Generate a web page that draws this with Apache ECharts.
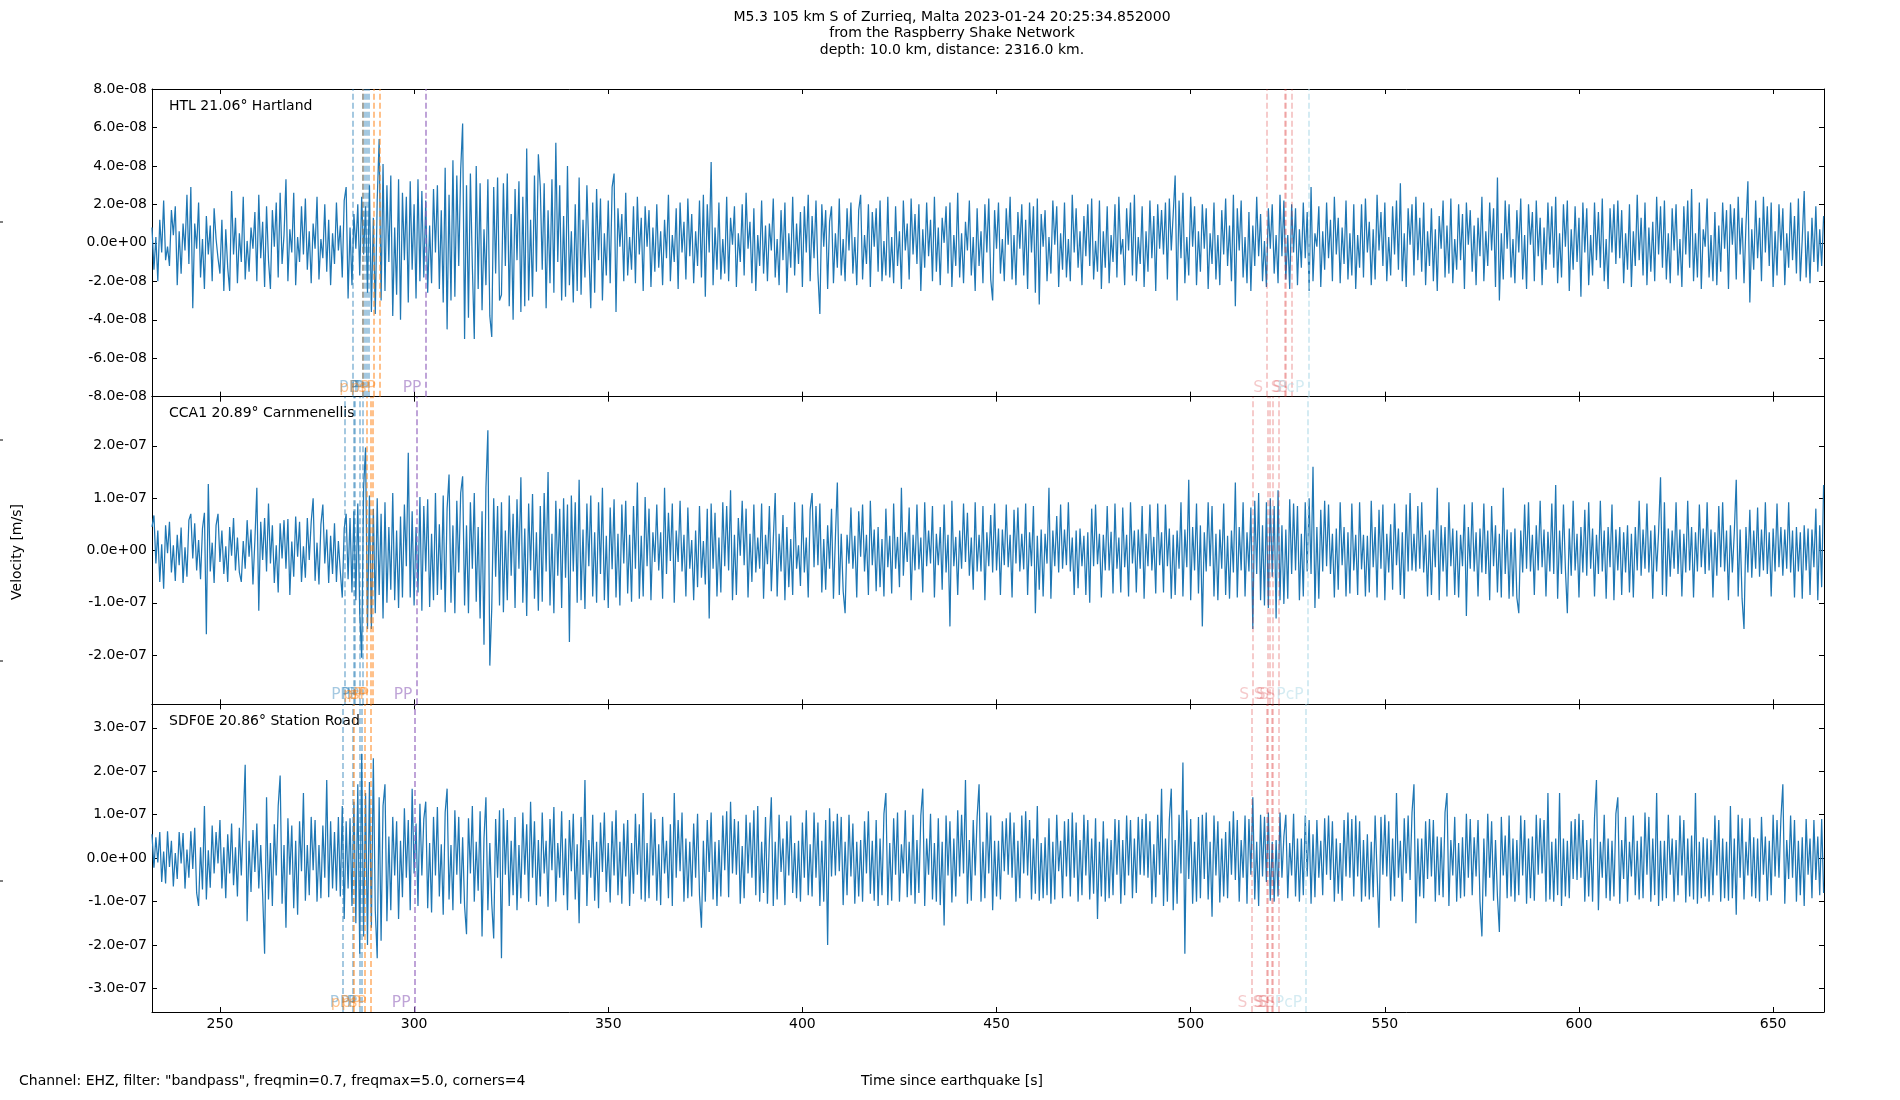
<!DOCTYPE html>
<html><head><meta charset="utf-8">
<script src="https://cdn.jsdelivr.net/npm/echarts@6/dist/echarts.min.js"></script>
<style>html,body{margin:0;padding:0;background:#fff}#c{width:1900px;height:1100px}</style>
</head><body><div id="c"></div>
<script>
// ---- data (velocity in units of 1e-9 m/s, sampled every DT seconds from T0) ----
const T0 = 232.5, DT = 0.5;
const xMin = 232.5, xMax = 663.1;
const xTicks = [250,300,350,400,450,500,550,600,650];
const stationLabels = ['HTL 21.06° Hartland','CCA1 20.89° Carnmenellis','SDF0E 20.86° Station Road'];

const htlNm = [
8,-14,3,-20,12,-5,22,-9,-2,-12,17,4,19,-22,6,-16,10,-4,25,-11,
29,-34,10,-3,21,-18,2,-24,14,-6,9,-20,18,2,-8,-16,12,-25,7,-13,
-25,27,-6,13,-21,5,-10,24,-19,1,-15,8,-3,16,-20,25,-8,11,-23,19,
-9,-24,17,-2,21,-18,26,-11,4,33,-20,7,-5,26,-22,3,-10,19,-6,23,
-14,6,-21,10,-3,24,-19,2,-8,20,-15,12,-22,5,-11,21,-4,9,-18,22,
29,-29,8,-22,15,-3,20,-17,24,-6,19,-26,30,-36,13,-37,22,54,-30,41,
-25,30,-10,35,-38,8,-27,33,-40,26,-9,24,-31,32,-14,20,-29,33,-20,27,
-18,22,-26,9,-21,28,-5,30,-24,17,-31,39,-45,25,-30,43,-28,35,-12,38,
62,-50,30,-39,36,-12,-50,40,-24,31,-35,7,-22,33,-38,-49,29,-16,34,-30,
-27,31,-12,36,-33,15,-40,28,-9,32,-36,24,-33,49,-30,12,-28,35,-15,46,
29,-14,31,-34,17,-21,33,-26,52,-10,30,-30,14,-28,40,-22,6,-31,20,-25,
34,-27,12,-18,30,-4,-34,21,-26,28,-9,23,-30,5,-17,22,-21,29,36,-36,
18,-2,15,-20,26,-17,3,-14,19,-21,24,-6,13,-25,19,-2,17,-23,8,-15,
20,-13,6,-22,12,-8,25,-20,4,-10,18,-24,21,-5,11,-19,23,-7,15,-21,
6,-12,22,-18,25,-28,20,-5,42,-22,8,-14,21,-19,2,-16,24,-20,13,-1,
19,-23,5,-10,20,-17,26,-3,11,-21,18,-25,4,-12,22,-16,9,-20,10,-4,
23,-18,2,-22,17,-9,21,-26,5,-13,24,-17,10,-11,16,-23,19,-5,25,-20,
14,-8,22,-16,-37,20,-2,17,-24,11,19,-21,5,-13,23,-17,2,-20,18,-4,
21,-16,3,-22,17,25,-19,4,-11,20,-23,16,-2,18,-15,22,-20,1,-17,24,
-18,3,-21,19,-12,6,-24,22,-4,10,-19,23,-6,15,-11,20,-25,7,-13,21,
-7,12,-20,24,-15,8,-22,13,0,19,-16,21,-23,4,-12,26,-18,5,-21,11,
-4,22,-17,3,-25,18,-12,6,-21,20,-5,23,-19,-30,17,-3,21,-16,2,-20,
18,-1,24,-19,4,-22,16,-3,20,-17,12,-24,21,-5,19,-26,23,-32,15,-2,
17,-20,3,-16,22,-1,19,-23,5,-14,21,-18,2,-20,25,-5,18,-13,6,-22,
14,-7,20,-12,23,-19,1,-15,22,-24,6,-13,19,-21,4,-10,20,-18,24,-6,
2,-22,18,-4,21,-17,25,-20,3,-11,19,-23,6,-15,22,-8,14,-25,20,-3,
17,-6,21,-19,23,-4,15,35,-30,22,-8,26,-21,3,-17,24,-2,19,-22,6,
-15,20,-3,18,-24,5,-11,21,-19,4,-22,17,-6,23,-12,9,-20,25,-33,18,
-4,22,-18,3,-21,16,-25,9,-12,24,-7,15,-20,1,-23,18,-3,20,-16,4,
-21,25,-7,22,-19,4,-24,20,-5,18,-22,7,-13,21,-8,16,-25,29,-20,5,
-2,19,-23,6,-14,21,-8,12,-20,24,-6,13,-21,8,-11,22,-19,5,-17,20,
-24,4,-13,20,-18,23,-5,11,-22,7,-19,25,-4,16,-12,21,-20,3,-17,19,
-6,22,-14,31,-20,5,-23,18,-1,20,-17,24,-9,13,-15,21,-22,6,-12,18,
-20,7,-25,14,-3,22,-18,9,-16,23,-21,2,-14,20,-9,15,-24,21,-1,17,
-15,9,-22,13,-7,24,-20,6,-12,21,-4,18,-23,34,-30,5,-19,22,-3,20,
-18,2,-21,17,-5,23,-19,4,-24,20,-1,16,-20,22,-7,13,-22,8,-14,21,
-6,19,-13,24,-21,5,-18,20,-2,22,-25,7,-14,19,-10,13,-28,21,-5,18,
-22,4,-17,21,-9,16,-13,23,-20,2,-24,18,-5,20,-11,22,-8,17,-21,5,
-14,20,-23,6,-12,25,-9,13,-17,21,-22,8,-15,11,-20,24,-6,19,-13,22,
-19,5,-21,18,-4,20,-17,2,-23,19,-6,22,-13,28,-20,5,-18,21,-24,7,
-2,23,-18,4,-20,16,-22,9,-15,21,-3,17,-24,20,-1,18,-19,24,-6,13,
-21,9,32,-31,7,-14,22,-8,13,-20,24,-5,19,-12,21,-23,6,-17,20,-4,
18,-22,5,-13,21,-9,14,-16,23,-20,2,27,-18,6,-21,13,-10,19,-15,7,
-12,14
];

const cca1Nm = [
45,67,-25,38,-60,12,-73,48,-5,55,-42,10,-58,30,-28,44,-62,6,-50,58,
70,-15,52,-38,20,-55,42,72,-160,127,-40,15,-62,48,70,-22,38,-45,8,-60,
45,-10,62,-38,25,-42,-60,18,-35,58,-12,40,-65,20,120,-115,55,-18,62,-40,
90,-25,48,-62,10,-80,52,-15,58,-35,60,-85,17,-50,65,-12,55,-60,8,-52,
62,-18,55,100,-58,15,-65,50,88,-25,40,-62,28,-45,52,-60,18,-40,-90,42,
70,-55,62,-80,75,-95,90,-120,-205,120,197,-150,105,-150,80,-120,100,-85,70,-130,
92,-100,45,-75,110,-95,38,-110,65,-90,88,-30,187,-90,75,-105,45,-80,102,-115,
85,-40,98,-108,32,-95,110,-85,50,-75,105,-118,80,145,-100,48,-120,95,-42,110,
142,-105,48,-120,92,-35,110,-98,45,-130,75,-180,120,230,-220,-110,100,-50,85,-105,
92,-118,38,-95,105,-48,70,-110,98,-35,140,-100,42,-125,90,-38,108,-92,35,-115,
85,-98,110,-40,150,-105,32,-120,95,-48,80,-110,100,-52,88,-175,105,-40,92,-100,
135,-95,40,-112,90,-30,105,-88,35,-100,92,-45,120,-95,28,-110,82,-36,98,-90,
32,-105,88,-25,95,-82,30,-98,85,-35,130,-92,28,-88,102,-30,80,-95,35,-22,
88,-38,35,-92,120,-45,72,-20,90,-100,38,-22,95,-40,30,-88,82,-35,20,-95,
38,-70,85,-52,18,-65,80,-130,90,-35,72,-88,25,-80,92,-30,85,-38,115,-95,
30,-85,62,-10,95,-28,80,-90,32,-60,88,-42,25,-35,90,-92,30,-26,85,-78,
20,110,-88,32,-40,68,-95,45,-70,22,-85,92,-35,10,-68,88,-42,25,-90,78,
110,-32,85,-28,90,-80,22,-75,48,-35,80,-92,25,130,-85,32,-78,-120,30,-25,
82,-35,28,-90,75,-12,88,-40,30,-85,95,-28,40,-78,45,-70,22,-88,80,-32,
28,-82,90,-35,26,-70,120,-48,35,-22,82,-95,30,-38,88,-36,25,-80,92,-30,
38,-25,85,-90,32,-28,45,-75,88,-42,30,-145,95,-30,26,-85,38,-35,90,-22,
72,-48,25,-75,92,-40,30,-40,85,-95,35,-30,68,-42,90,-38,42,-85,40,-28,
88,-32,30,-90,78,-25,82,-40,32,-36,90,-85,35,-30,85,-120,28,-75,40,-88,
32,-25,120,-92,38,-30,66,-42,88,-35,40,-28,92,-40,25,-85,38,-72,42,-30,
28,-85,35,-100,80,-30,88,-26,32,-90,30,-38,85,-38,36,-82,90,-35,25,-80,
82,-32,30,-88,92,-25,38,-80,40,-35,85,-92,32,-30,88,-38,26,-82,90,-28,
35,-80,88,-30,42,-92,30,-85,38,-35,92,-88,40,-32,135,-95,45,-38,90,-82,
48,-145,35,-40,92,-30,85,-88,32,-95,40,-35,90,-85,28,-92,38,-42,130,-90,
45,-38,92,-88,35,-40,82,-150,95,-45,110,-95,48,-105,92,-110,100,-50,85,-130,
115,-95,48,-102,40,-92,98,-45,90,-38,85,-95,32,-88,92,-40,100,-45,160,-110,
45,-92,78,-40,95,-30,88,-45,32,-90,42,-75,92,-28,45,-88,35,-82,90,-38,
30,-85,92,-36,30,-88,28,-80,95,-32,45,-90,78,-35,88,-95,32,-42,50,-75,
90,-28,42,-85,35,-92,88,-40,110,-38,32,-40,85,-35,92,-42,30,-88,38,-85,
40,-32,120,-95,48,-40,45,-88,92,-30,42,-85,38,-90,30,-30,88,-125,45,-35,
92,-40,35,-88,42,-42,90,-45,38,-95,85,-30,48,-80,32,-90,120,-45,40,-92,
35,-88,42,-90,-120,38,-42,88,-35,92,-40,30,-85,48,-38,95,-32,40,-88,36,
-40,90,-45,125,-92,38,-45,88,-35,-120,42,-48,95,-38,32,-90,45,-42,78,-48,
92,-35,42,-88,30,-45,95,-40,38,-92,45,-32,88,-95,40,-38,45,-85,35,-42,
48,-80,32,-90,45,-38,95,-48,40,-35,90,-42,38,-92,48,-40,35,140,-85,92,
-88,42,-50,38,-35,92,-45,40,-88,32,-42,95,-38,45,-90,35,-40,88,-32,42,
-45,92,-38,40,-90,35,-48,85,-32,92,-40,38,-95,48,-42,35,135,-88,40,-92,
-150,45,-42,78,-52,38,-35,82,-50,40,-38,92,-45,35,-88,42,-40,90,-32,45,
-48,40,-35,92,-42,38,-90,45,-40,35,-92,48,-38,42,-85,40,-32,80,-95,48,
-70,125
];

const sdf0eNm = [
55,-22,48,-10,60,-55,15,-58,62,-20,40,-65,12,-48,60,-12,58,-70,20,-45,
62,-25,70,-80,-110,25,-72,120,-95,18,-68,75,-35,60,-12,88,-70,25,-92,55,
-35,80,-62,25,-88,70,-40,85,215,-145,40,-78,65,-32,80,-70,30,-85,-220,140,
-95,35,-110,78,-40,120,190,-105,30,-160,92,-38,75,-115,40,-130,85,-30,150,-98,
30,-85,95,-28,88,-100,30,-92,75,-45,180,-90,85,-70,60,-75,95,-88,120,-140,
85,-70,92,-110,130,-150,170,-220,240,-180,150,-200,175,-160,230,-120,-230,140,-190,120,
170,-145,50,-120,95,-40,85,-140,40,-90,115,-45,88,-120,160,-35,80,-110,125,-40,
90,130,-115,35,-125,95,-40,118,-88,32,-130,105,160,-95,30,-120,110,-38,95,-105,
48,-110,-175,92,-35,120,-100,38,-75,108,-180,45,140,-120,35,-105,-185,90,-45,110,
-230,115,-38,88,-110,40,-85,95,-120,30,-92,105,-38,78,-100,130,-45,85,-108,42,
-88,105,-35,40,-112,90,-28,118,-100,35,-45,108,-85,45,-120,88,-30,102,-95,32,
-150,95,-38,180,-110,42,-45,100,-98,38,-115,82,-32,105,-78,35,-102,85,-40,110,
-85,38,-105,80,-42,88,-110,35,-82,102,-38,78,-95,150,-100,35,-92,105,-40,90,
-98,32,-108,95,-35,40,-92,78,-110,150,-45,88,-30,105,-100,45,-92,38,-88,80,
-45,102,-85,-160,40,-100,88,-32,105,-95,38,-110,42,-88,98,-28,108,-90,130,-35,
90,-38,85,-105,28,-92,100,-35,82,-45,110,-85,120,-100,38,-80,95,-105,42,140,
-110,38,-95,100,-32,45,-108,85,-40,98,-80,35,-92,40,-100,82,-45,110,-85,32,
-88,105,-45,82,-110,40,-100,88,-200,115,-42,85,-40,102,-30,95,-108,38,-85,100,
-42,80,-105,38,-88,42,-100,85,-35,108,-82,40,-98,88,-110,45,-85,102,150,-108,
35,-98,92,-38,105,-100,32,-35,110,-90,38,-85,100,-105,42,-80,98,160,-110,45,
-38,102,-95,35,-100,92,-108,38,-155,98,-40,85,-102,45,-88,110,-42,100,-35,180,
-105,42,-98,88,-40,95,170,-100,38,-92,105,-35,98,-120,40,-88,40,-95,85,-30,
92,-38,105,-45,82,-100,40,-92,98,-35,108,-40,88,-95,45,-82,120,-98,35,-92,
48,-85,92,-105,38,-95,100,-30,40,-92,85,-42,90,-88,105,-45,82,-100,42,-85,
100,-40,88,-95,45,-82,92,-140,38,-88,85,-100,45,-92,42,-85,90,-38,88,-105,
42,-85,98,-40,88,-92,45,-80,95,-38,90,-40,102,-45,85,-105,32,-90,100,-38,
160,-110,45,-100,88,160,-120,42,-105,100,-35,220,-220,110,-48,90,-105,38,-100,95,
-92,100,-48,105,-95,38,-135,98,-40,85,-102,45,-88,60,-92,85,-38,108,-50,88,
-100,42,-45,98,-105,90,-38,140,-95,38,-110,100,-42,95,-55,105,-98,38,-100,42,
-88,105,-45,50,100,-92,35,-40,102,-88,45,-100,45,-85,98,-42,88,-105,55,-90,
88,-45,40,-85,92,-38,98,-50,85,-100,45,-82,35,-98,88,-42,105,-45,90,-88,
98,-42,85,-100,42,-88,55,-95,38,-90,98,-35,-160,95,-38,100,-42,85,-98,45,
-88,150,-45,40,-100,92,-35,98,-50,105,170,-150,45,-88,45,-92,85,-48,90,-42,
88,-100,50,-85,48,-90,105,150,-110,42,-40,95,-100,35,-92,48,-88,102,-45,90,
-85,48,-42,88,-100,-180,45,-88,102,-45,85,-98,42,-88,-170,95,-40,52,-92,98,
-88,45,-100,42,-85,98,-40,88,-105,45,-92,50,-98,100,-38,92,-35,88,-100,150,
-95,38,-100,45,-85,150,-110,45,-88,40,-92,85,-48,90,-50,102,-45,88,-100,42,
-88,45,-100,92,180,-120,38,-45,100,-92,45,-98,40,-88,102,140,-105,42,-48,95,
-100,38,-42,98,-85,40,-95,50,-92,105,-38,95,-100,45,-85,150,-110,40,-98,40,
-92,100,-38,45,-100,42,-85,98,-40,88,-102,45,-88,52,-95,150,-105,38,-92,48,
-88,45,-100,42,-85,98,-40,88,-100,45,-92,38,-98,120,-92,45,-130,100,-45,92,
-95,38,-40,92,-88,48,-92,45,-100,95,-38,50,-98,40,-85,100,-42,88,-45,90,
170,-105,42,-48,98,-45,88,-100,40,-85,48,-110,90,-38,45,-92,88,-50,50,-85,
90,-80
];

const yLimits = [80, 294, 354];
const htlTicks = [-80,-60,-40,-20,0,20,40,60,80];
const cca1Ticks = [-200,-100,0,100,200];
const sdf0eTicks = [-300,-200,-100,0,100,200,300];

const htlPhaseNames  = ['P','pP','P','P','P','P','pP','sP','PP','S','S','S','S','PcP'];
const htlPhaseTimes  = [284.1,286.7,286.7,287.2,287.8,288.2,289.6,291.2,302.9,519.7,524.2,524.6,526.1,530.3];
const cca1PhaseNames = ['P','P','P','P','P','pP','pP','sP','PP','S','S','S','S','S','PcP'];
const cca1PhaseTimes = [282.1,284.4,284.7,286.0,286.8,287.7,288.8,289.4,300.6,516.1,519.8,520.3,521.2,522.8,530.1];
const sdf0ePhaseNames = ['P','P','pP','P','P','pP','sP','PP','S','S','S','S','S','S','PcP'];
const sdf0ePhaseTimes = [281.7,284.3,284.5,286.0,286.4,287.3,288.8,300.1,515.6,519.5,519.9,520.8,521.2,522.8,529.7];

// ---- styling ----
const FONT = 'DejaVu Sans';
const phaseColor = {
  'P':'rgba(31,119,180,0.5)', 'pP':'rgba(255,127,14,0.6)', 'sP':'rgba(255,127,14,0.6)',
  'PP':'rgba(148,103,189,0.75)', 'S':'rgba(214,39,40,0.3)', 'PcP':'rgba(173,216,230,0.65)'
};
const L = 152, R = 76, TOP = 89, PH = 307.67;

function fmt(v) {
  const x = v * 1e-9;
  if (Math.abs(x) < 1e-15) return '0.0e+00';
  const s = x.toExponential(1);
  const m = s.match(/^(-?\d\.\d)e([+-])(\d+)$/);
  return m ? m[1] + 'e' + m[2] + m[3].padStart(2, '0') : s;
}

const traces = [htlNm, cca1Nm, sdf0eNm];
const tickSets = [htlTicks, cca1Ticks, sdf0eTicks];
const phaseNames = [htlPhaseNames, cca1PhaseNames, sdf0ePhaseNames];
const phaseTimes = [htlPhaseTimes, cca1PhaseTimes, sdf0ePhaseTimes];

const grid = [], xAxis = [], yAxis = [], series = [], graphic = [];
const axisLineStyle = {color:'#000', width:1};

for (let i = 0; i < 3; i++) {
  grid.push({left:L, right:R, top:TOP + i * PH, height:PH, containLabel:false});
}
for (let i = 0; i < 3; i++) {
  xAxis.push({type:'value', gridIndex:i, position:'bottom', min:xMin, max:xMax,
    axisLine:{show:true, onZero:false, lineStyle:axisLineStyle},
    axisTick:{show:true, inside:true, length:5, customValues:xTicks, lineStyle:axisLineStyle},
    axisLabel:{show:i===2, customValues:xTicks, color:'#000', fontSize:14, fontFamily:FONT, margin:5},
    splitLine:{show:false}});
}
for (let i = 0; i < 3; i++) {
  xAxis.push({type:'value', gridIndex:i, position:'top', min:xMin, max:xMax,
    axisLine:{show:true, onZero:false, lineStyle:axisLineStyle},
    axisTick:{show:true, inside:true, length:5, customValues:xTicks, lineStyle:axisLineStyle},
    axisLabel:{show:false}, splitLine:{show:false}});
}
for (let i = 0; i < 3; i++) {
  yAxis.push({type:'value', gridIndex:i, position:'left', min:-yLimits[i], max:yLimits[i],
    axisLine:{show:true, onZero:false, lineStyle:axisLineStyle},
    axisTick:{show:true, inside:true, length:5, customValues:tickSets[i], lineStyle:axisLineStyle},
    axisLabel:{show:true, customValues:tickSets[i], formatter:fmt, color:'#000', fontSize:14, fontFamily:FONT, margin:5},
    splitLine:{show:false}});
}
for (let i = 0; i < 3; i++) {
  yAxis.push({type:'value', gridIndex:i, position:'right', min:-yLimits[i], max:yLimits[i],
    axisLine:{show:true, onZero:false, lineStyle:axisLineStyle},
    axisTick:{show:true, inside:true, length:5, customValues:tickSets[i], lineStyle:axisLineStyle},
    axisLabel:{show:false}, splitLine:{show:false}});
}

for (let i = 0; i < 3; i++) {
  const data = traces[i].map((v, k) => [T0 + k * DT, v]);
  const names = phaseNames[i], times = phaseTimes[i];
  series.push({
    type:'line', xAxisIndex:i, yAxisIndex:i, data:data, showSymbol:false, symbol:'none',
    lineStyle:{color:'#1f77b4', width:1.25}, silent:true, z:2,
    markLine:{
      silent:true, symbol:['none','none'], animation:false, label:{show:false},
      data: times.map((t, k) => ({xAxis:t, lineStyle:{color:phaseColor[names[k]], type:[6,3], width:1.6}}))
    }
  });
  series.push({
    type:'scatter', xAxisIndex:i, yAxisIndex:i, symbolSize:0, silent:true, z:5,
    data: times.map((t, k) => ({
      name: names[k], value:[t, -yLimits[i]],
      label:{color:phaseColor[names[k]]}
    })),
    label:{show:true, position:'inside', align:'right', verticalAlign:'bottom', offset:[-4,-1],
      formatter:(p) => p.name, fontSize:15.5, fontFamily:FONT}
  });
}

function txt(x, y, text, align, size, extra) {
  return Object.assign({type:'text', x:x, y:y, silent:true,
    style:{text:text, fill:'#000', font:(size||14)+'px "'+FONT+'"',
      align:align||'left', verticalAlign:'middle', textAlign:align||'left', textVerticalAlign:'middle'}}, extra||{});
}
graphic.push(txt(952, 17, 'M5.3 105 km S of Zurrieq, Malta 2023-01-24 20:25:34.852000', 'center'));
graphic.push(txt(952, 33.5, 'from the Raspberry Shake Network', 'center'));
graphic.push(txt(952, 50, 'depth: 10.0 km, distance: 2316.0 km.', 'center'));
for (let i = 0; i < 3; i++) graphic.push(txt(169, TOP + i * PH + 17, stationLabels[i], 'left'));
graphic.push(txt(17, 552, 'Velocity [m/s]', 'center', 14, {rotation: Math.PI / 2}));
graphic.push(txt(19, 1081, 'Channel: EHZ, filter: "bandpass", freqmin=0.7, freqmax=5.0, corners=4', 'left'));
graphic.push(txt(952, 1081, 'Time since earthquake [s]', 'center'));
[222, 440, 661, 881].forEach(y => graphic.push({type:'line', silent:true, shape:{x1:0, y1:y, x2:3, y2:y}, style:{stroke:'#000', lineWidth:1}}));

const chart = echarts.init(document.getElementById('c'), null, {renderer:'canvas', width:1900, height:1100});
chart.setOption({animation:false, backgroundColor:'#fff', grid, xAxis, yAxis, series, graphic});
</script></body></html>
